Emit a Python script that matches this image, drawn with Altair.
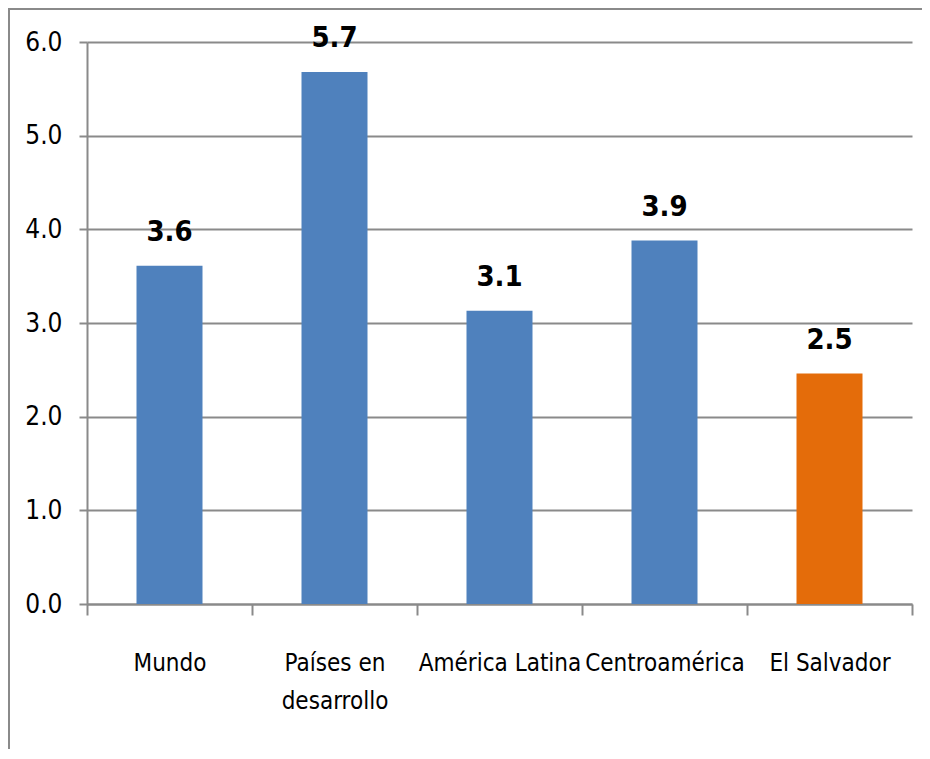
import altair as alt
import pandas as pd

categories = ["Mundo", "Países en desarrollo", "América Latina", "Centroamérica", "El Salvador"]
values = [3.61, 5.68, 3.13, 3.88, 2.46]
y_ticks = [0, 1, 2, 3, 4, 5, 6]

df = pd.DataFrame({"cat": categories, "value": values})

FONT = "DejaVu Sans Condensed, sans-serif"
GRAY = "#8a8a8a"
BLUE = "#4F81BD"
ORANGE = "#E46C0A"

x = alt.X(
    "cat:N",
    sort=None,
    scale=alt.Scale(paddingInner=0, paddingOuter=0),
    axis=alt.Axis(
        title=None,
        labelAngle=0,
        tickBand="extent",
        tickSize=11,
        tickColor=GRAY,
        tickWidth=2,
        domainColor=GRAY,
        domainWidth=2,
        labelFont=FONT,
        labelFontSize=24,
        labelColor="#000",
        labelPadding=36,
        labelLineHeight=38,
        labelLimit=0,
        labelOverlap=False,
        labelExpr="datum.label == 'Países en desarrollo' ? ['Países en', 'desarrollo'] : datum.label",
    ),
)
y = alt.Y(
    "value:Q",
    scale=alt.Scale(domain=[0, 6], nice=False),
    axis=alt.Axis(
        title=None,
        values=y_ticks,
        format=".1f",
        grid=True,
        gridColor=GRAY,
        gridWidth=2,
        tickSize=8,
        tickColor=GRAY,
        tickWidth=2,
        domainColor=GRAY,
        domainWidth=2,
        labelFont=FONT,
        labelFontSize=26,
        labelColor="#000",
        labelPadding=17,
    ),
)

base = alt.Chart(df)

bars = base.mark_bar(width=alt.RelativeBandSize(0.4)).encode(
    x=x,
    y=y,
    color=alt.condition(alt.datum.cat == "El Salvador", alt.value(ORANGE), alt.value(BLUE)),
)

labels = base.mark_text(
    baseline="alphabetic", dy=-25, fontWeight="bold", fontSize=29, font=FONT, color="#000"
).encode(x=x, y=y, text=alt.Text("value:Q", format=".1f"))

border = alt.Chart(df).mark_rect(filled=False, stroke=GRAY, strokeWidth=2).encode(
    x=alt.value(-78), x2=alt.value(900), y=alt.value(-33), y2=alt.value(800)
)

chart = (
    alt.layer(border, bars, labels)
    .properties(
        width=825,
        height=562,
        autosize=alt.AutoSizeParams(type="none"),
        padding={"left": 79, "top": 34, "right": 10, "bottom": 145},
    )
    .configure_view(stroke=None)
)

chart.save("out.html", embed_options={"renderer": "svg", "actions": False})
